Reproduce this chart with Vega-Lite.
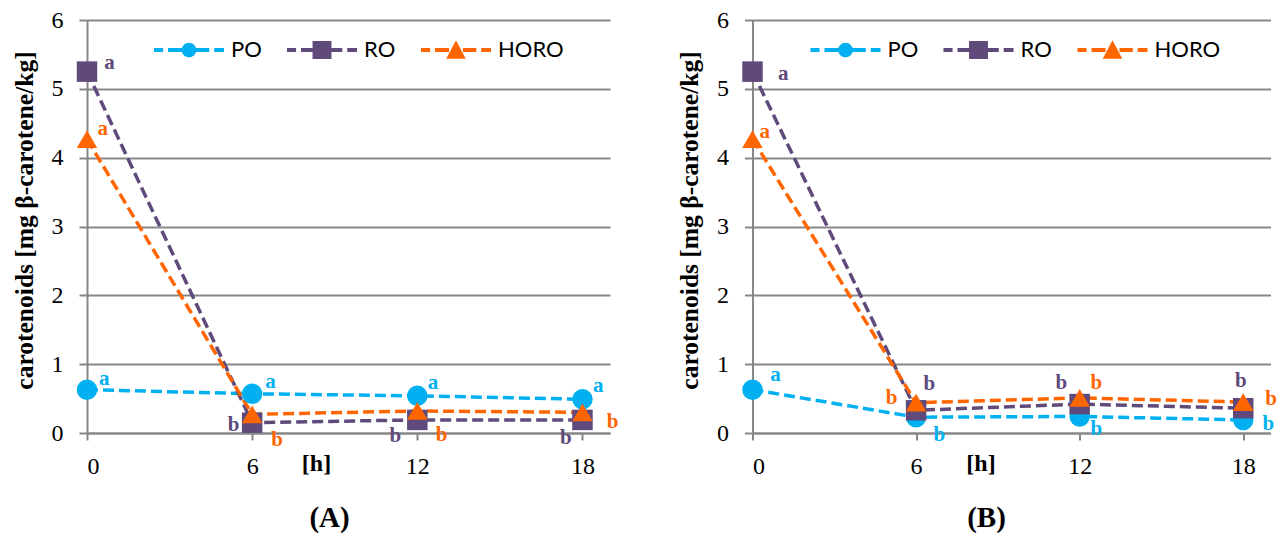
{
  "$schema": "https://vega.github.io/schema/vega-lite/v6.json",
  "background": "white",
  "padding": {"left": 11, "top": 8, "right": 0, "bottom": 0},
  "autosize": {"type": "pad"},
  "spacing": 142.5,
  "bounds": "flush",
  "datasets": {
    "seriesA": [
      {"series": "PO", "hour": 0, "value": 0.63},
      {"series": "PO", "hour": 6, "value": 0.57},
      {"series": "PO", "hour": 12, "value": 0.54},
      {"series": "PO", "hour": 18, "value": 0.49},
      {"series": "RO", "hour": 0, "value": 5.25},
      {"series": "RO", "hour": 6, "value": 0.15},
      {"series": "RO", "hour": 12, "value": 0.19},
      {"series": "RO", "hour": 18, "value": 0.19},
      {"series": "HORO", "hour": 0, "value": 4.27},
      {"series": "HORO", "hour": 6, "value": 0.27},
      {"series": "HORO", "hour": 12, "value": 0.32},
      {"series": "HORO", "hour": 18, "value": 0.30}
    ],
    "seriesB": [
      {"series": "PO", "hour": 0, "value": 0.63},
      {"series": "PO", "hour": 6, "value": 0.23},
      {"series": "PO", "hour": 12, "value": 0.24},
      {"series": "PO", "hour": 18, "value": 0.19},
      {"series": "RO", "hour": 0, "value": 5.25},
      {"series": "RO", "hour": 6, "value": 0.33},
      {"series": "RO", "hour": 12, "value": 0.42},
      {"series": "RO", "hour": 18, "value": 0.36},
      {"series": "HORO", "hour": 0, "value": 4.27},
      {"series": "HORO", "hour": 6, "value": 0.44},
      {"series": "HORO", "hour": 12, "value": 0.51},
      {"series": "HORO", "hour": 18, "value": 0.45}
    ],
    "lettersA": [
      {"series": "PO", "lx": 0.63, "ly": 0.79, "label": "a"},
      {"series": "PO", "lx": 6.67, "ly": 0.74, "label": "a"},
      {"series": "PO", "lx": 12.57, "ly": 0.73, "label": "a"},
      {"series": "PO", "lx": 18.57, "ly": 0.69, "label": "a"},
      {"series": "RO", "lx": 0.82, "ly": 5.37, "label": "a"},
      {"series": "RO", "lx": 5.33, "ly": 0.11, "label": "b"},
      {"series": "RO", "lx": 11.2, "ly": -0.05, "label": "b"},
      {"series": "RO", "lx": 17.4, "ly": -0.07, "label": "b"},
      {"series": "HORO", "lx": 0.57, "ly": 4.41, "label": "a"},
      {"series": "HORO", "lx": 6.91, "ly": -0.10, "label": "b"},
      {"series": "HORO", "lx": 12.88, "ly": -0.03, "label": "b"},
      {"series": "HORO", "lx": 19.09, "ly": 0.16, "label": "b"}
    ],
    "lettersB": [
      {"series": "PO", "lx": 0.84, "ly": 0.84, "label": "a"},
      {"series": "PO", "lx": 6.85, "ly": -0.03, "label": "b"},
      {"series": "PO", "lx": 12.61, "ly": 0.06, "label": "b"},
      {"series": "PO", "lx": 18.92, "ly": 0.13, "label": "b"},
      {"series": "RO", "lx": 1.13, "ly": 5.22, "label": "a"},
      {"series": "RO", "lx": 6.49, "ly": 0.71, "label": "b"},
      {"series": "RO", "lx": 11.33, "ly": 0.72, "label": "b"},
      {"series": "RO", "lx": 17.91, "ly": 0.75, "label": "b"},
      {"series": "HORO", "lx": 0.45, "ly": 4.38, "label": "a"},
      {"series": "HORO", "lx": 5.1, "ly": 0.51, "label": "b"},
      {"series": "HORO", "lx": 12.61, "ly": 0.72, "label": "b"},
      {"series": "HORO", "lx": 19.02, "ly": 0.5, "label": "b"}
    ]
  },
  "hconcat": [
    {
      "width": 523,
      "height": 413,
      "title": {"text": "(A)", "orient": "bottom", "anchor": "middle", "dx": -19, "offset": 26, "font": "Liberation Serif", "fontSize": 29, "fontWeight": "bold", "color": "black"},
      "layer": [
        {
          "data": {"name": "seriesA"},
          "mark": {"type": "line", "strokeWidth": 3.5, "strokeDash": [11, 5], "strokeCap": "butt"},
          "encoding": {
            "x": {"field": "hour", "type": "quantitative", "scale": {"domain": [0, 19], "nice": false},
                  "axis": {"values": [0, 6, 12, 18], "format": "d", "labelFont": "Liberation Serif", "labelFontSize": 24, "title": "[h]", "titleFont": "Liberation Serif", "titleFontSize": 24, "titleX": 229, "titleY": 30, "titleBaseline": "middle", "titleAlign": "center", "grid": false}},
            "y": {"field": "value", "type": "quantitative", "scale": {"domain": [0, 6], "nice": false},
                  "axis": {"values": [0, 1, 2, 3, 4, 5, 6], "format": "d", "labelFont": "Liberation Serif", "labelFontSize": 24, "title": "carotenoids [mg β-carotene/kg]", "titleFont": "Liberation Serif", "titleFontSize": 25.5, "titleX": -63, "titleY": 200, "titleAngle": -90, "titleBaseline": "middle", "titleAlign": "center", "grid": true}},
            "color": {"field": "series", "type": "nominal", "scale": {"domain": ["PO", "RO", "HORO"], "range": ["#00B0F0", "#604A7B", "#FF6600"]}, "legend": null},
            "detail": {"field": "series"},
            "order": {"field": "hour", "type": "quantitative"}
          }
        },
        {
          "data": {"name": "seriesA"},
          "mark": {"type": "point", "filled": true, "opacity": 1, "size": 420, "strokeWidth": 0},
          "encoding": {
            "x": {"field": "hour", "type": "quantitative"},
            "y": {"field": "value", "type": "quantitative"},
            "color": {"field": "series", "type": "nominal", "scale": {"domain": ["PO", "RO", "HORO"], "range": ["#00B0F0", "#604A7B", "#FF6600"]}, "legend": null},
            "shape": {"field": "series", "type": "nominal", "scale": {"domain": ["PO", "RO", "HORO"], "range": ["circle", "square", "triangle-up"]}, "legend": null}
          }
        },
        {
          "data": {"name": "lettersA"},
          "mark": {"type": "text", "font": "Liberation Serif", "fontSize": 21, "fontWeight": "bold", "align": "center", "baseline": "middle"},
          "encoding": {
            "x": {"field": "lx", "type": "quantitative"},
            "y": {"field": "ly", "type": "quantitative"},
            "text": {"field": "label"},
            "color": {"field": "series", "type": "nominal", "scale": {"domain": ["PO", "RO", "HORO"], "range": ["#00B0F0", "#604A7B", "#FF6600"]}, "legend": null}
          }
        },
        {
          "data": {"values": []},
          "mark": {"type": "point", "filled": true, "opacity": 1},
          "encoding": {
            "color": {"field": "series", "type": "nominal", "scale": {"domain": ["PO", "RO", "HORO"], "range": ["#00B0F0", "#604A7B", "#FF6600"]},
                      "legend": {"orient": "none", "legendX": 67, "legendY": -5, "direction": "horizontal", "title": null, "symbolSize": 4900, "symbolStrokeWidth": 0, "labelFont": "Lato", "labelFontSize": 22, "labelColor": "black", "labelOffset": 7, "columnPadding": 25, "padding": 0}},
            "shape": {"field": "series", "type": "nominal",
                      "scale": {"domain": ["PO", "RO", "HORO"], "range": [
                        "M-1,-0.06H-0.74V0.06H-1Z M-0.6,-0.06H-0.2V0.06H-0.6Z M0.2,-0.06H0.58V0.06H0.2Z M0.72,-0.06H1V0.06H0.72Z M0.21,0A0.21,0.21,0,1,1,-0.21,0A0.21,0.21,0,1,1,0.21,0Z",
                        "M-1,-0.06H-0.74V0.06H-1Z M-0.6,-0.06H-0.27V0.06H-0.6Z M0.27,-0.06H0.58V0.06H0.27Z M0.72,-0.06H1V0.06H0.72Z M-0.27,-0.26H0.27V0.26H-0.27Z",
                        "M-1,-0.06H-0.74V0.06H-1Z M-0.6,-0.06H-0.2V0.06H-0.6Z M0.2,-0.06H0.58V0.06H0.2Z M0.72,-0.06H1V0.06H0.72Z M0,-0.28L0.28,0.25H-0.28Z"
                      ]},
                      "legend": {"orient": "none", "legendX": 67, "legendY": -5, "direction": "horizontal", "title": null, "symbolSize": 4900, "symbolStrokeWidth": 0, "labelFont": "Lato", "labelFontSize": 22, "labelColor": "black", "labelOffset": 7, "columnPadding": 25, "padding": 0}}
          }
        }
      ],
      "resolve": {"scale": {"color": "independent", "shape": "independent"}, "legend": {"color": "independent", "shape": "independent"}}
    },
    {
      "width": 518,
      "height": 413,
      "title": {"text": "(B)", "orient": "bottom", "anchor": "middle", "dx": -25, "offset": 26, "font": "Liberation Serif", "fontSize": 29, "fontWeight": "bold", "color": "black"},
      "layer": [
        {
          "data": {"name": "seriesB"},
          "mark": {"type": "line", "strokeWidth": 3.5, "strokeDash": [11, 5], "strokeCap": "butt"},
          "encoding": {
            "x": {"field": "hour", "type": "quantitative", "scale": {"domain": [0, 19], "nice": false},
                  "axis": {"values": [0, 6, 12, 18], "format": "d", "labelFont": "Liberation Serif", "labelFontSize": 24, "title": "[h]", "titleFont": "Liberation Serif", "titleFontSize": 24, "titleX": 228, "titleY": 30, "titleBaseline": "middle", "titleAlign": "center", "grid": false}},
            "y": {"field": "value", "type": "quantitative", "scale": {"domain": [0, 6], "nice": false},
                  "axis": {"values": [0, 1, 2, 3, 4, 5, 6], "format": "d", "labelFont": "Liberation Serif", "labelFontSize": 24, "title": "carotenoids [mg β-carotene/kg]", "titleFont": "Liberation Serif", "titleFontSize": 25.5, "titleX": -63, "titleY": 200, "titleAngle": -90, "titleBaseline": "middle", "titleAlign": "center", "grid": true}},
            "color": {"field": "series", "type": "nominal", "scale": {"domain": ["PO", "RO", "HORO"], "range": ["#00B0F0", "#604A7B", "#FF6600"]}, "legend": null},
            "detail": {"field": "series"},
            "order": {"field": "hour", "type": "quantitative"}
          }
        },
        {
          "data": {"name": "seriesB"},
          "mark": {"type": "point", "filled": true, "opacity": 1, "size": 420, "strokeWidth": 0},
          "encoding": {
            "x": {"field": "hour", "type": "quantitative"},
            "y": {"field": "value", "type": "quantitative"},
            "color": {"field": "series", "type": "nominal", "scale": {"domain": ["PO", "RO", "HORO"], "range": ["#00B0F0", "#604A7B", "#FF6600"]}, "legend": null},
            "shape": {"field": "series", "type": "nominal", "scale": {"domain": ["PO", "RO", "HORO"], "range": ["circle", "square", "triangle-up"]}, "legend": null}
          }
        },
        {
          "data": {"name": "lettersB"},
          "mark": {"type": "text", "font": "Liberation Serif", "fontSize": 21, "fontWeight": "bold", "align": "center", "baseline": "middle"},
          "encoding": {
            "x": {"field": "lx", "type": "quantitative"},
            "y": {"field": "ly", "type": "quantitative"},
            "text": {"field": "label"},
            "color": {"field": "series", "type": "nominal", "scale": {"domain": ["PO", "RO", "HORO"], "range": ["#00B0F0", "#604A7B", "#FF6600"]}, "legend": null}
          }
        },
        {
          "data": {"values": []},
          "mark": {"type": "point", "filled": true, "opacity": 1},
          "encoding": {
            "color": {"field": "series", "type": "nominal", "scale": {"domain": ["PO", "RO", "HORO"], "range": ["#00B0F0", "#604A7B", "#FF6600"]},
                      "legend": {"orient": "none", "legendX": 58, "legendY": -5, "direction": "horizontal", "title": null, "symbolSize": 4900, "symbolStrokeWidth": 0, "labelFont": "Lato", "labelFontSize": 22, "labelColor": "black", "labelOffset": 7, "columnPadding": 25, "padding": 0}},
            "shape": {"field": "series", "type": "nominal",
                      "scale": {"domain": ["PO", "RO", "HORO"], "range": [
                        "M-1,-0.06H-0.74V0.06H-1Z M-0.6,-0.06H-0.2V0.06H-0.6Z M0.2,-0.06H0.58V0.06H0.2Z M0.72,-0.06H1V0.06H0.72Z M0.21,0A0.21,0.21,0,1,1,-0.21,0A0.21,0.21,0,1,1,0.21,0Z",
                        "M-1,-0.06H-0.74V0.06H-1Z M-0.6,-0.06H-0.27V0.06H-0.6Z M0.27,-0.06H0.58V0.06H0.27Z M0.72,-0.06H1V0.06H0.72Z M-0.27,-0.26H0.27V0.26H-0.27Z",
                        "M-1,-0.06H-0.74V0.06H-1Z M-0.6,-0.06H-0.2V0.06H-0.6Z M0.2,-0.06H0.58V0.06H0.2Z M0.72,-0.06H1V0.06H0.72Z M0,-0.28L0.28,0.25H-0.28Z"
                      ]},
                      "legend": {"orient": "none", "legendX": 58, "legendY": -5, "direction": "horizontal", "title": null, "symbolSize": 4900, "symbolStrokeWidth": 0, "labelFont": "Lato", "labelFontSize": 22, "labelColor": "black", "labelOffset": 7, "columnPadding": 25, "padding": 0}}
          }
        }
      ],
      "resolve": {"scale": {"color": "independent", "shape": "independent"}, "legend": {"color": "independent", "shape": "independent"}}
    }
  ],
  "resolve": {"scale": {"color": "independent", "shape": "independent"}, "legend": {"color": "independent", "shape": "independent"}},
  "config": {
    "view": {"stroke": null},
    "axis": {
      "domainColor": "#878787", "domainWidth": 2,
      "tickColor": "#878787", "tickWidth": 2,
      "gridColor": "#878787", "gridWidth": 2, "gridOpacity": 1,
      "labelFont": "Liberation Serif", "labelFontSize": 24, "labelColor": "black",
      "titleFont": "Liberation Serif", "titleFontSize": 24, "titleFontWeight": "bold", "titleColor": "black"
    },
    "axisY": {"tickSize": 8, "labelPadding": 16},
    "axisX": {"tickSize": 7, "labelPadding": 14}
  }
}
